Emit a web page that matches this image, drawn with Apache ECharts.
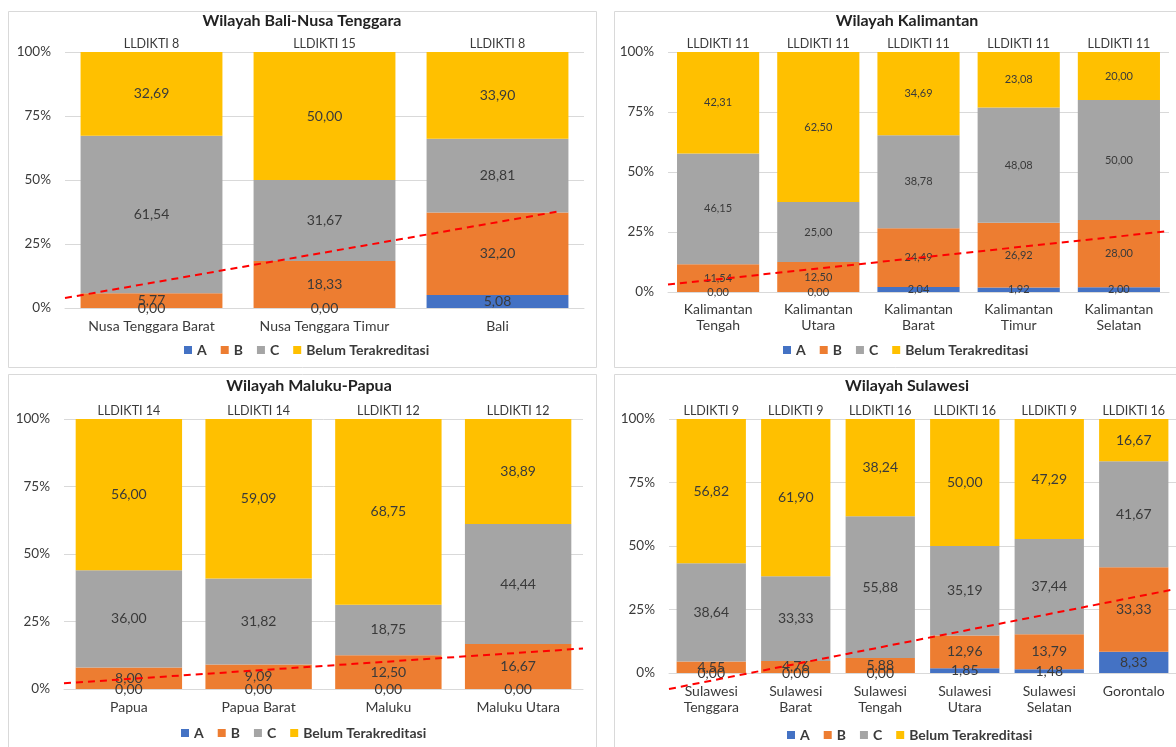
<!DOCTYPE html>
<html>
<head>
<meta charset="utf-8">
<script src="https://cdn.jsdelivr.net/npm/echarts@6/dist/echarts.min.js"></script>
<style>
  html, body { margin: 0; padding: 0; background: #fff; overflow: hidden; }
  #chart { width: 1176px; height: 747px; }
</style>
</head>
<body>
<div id="chart"></div>
<script>
// Wilayah Bali-Nusa Tenggara
const baliCategories = ['Nusa Tenggara Barat', 'Nusa Tenggara Timur', 'Bali'];
const baliLldikti = ['LLDIKTI 8', 'LLDIKTI 15', 'LLDIKTI 8'];
const baliA = [0.00, 0.00, 5.08];
const baliB = [5.77, 18.33, 32.20];
const baliC = [61.54, 31.67, 28.81];
const baliBelum = [32.69, 50.00, 33.90];
const baliTrend = [[0, 3.9], [2.86, 37.8]];

// Wilayah Kalimantan
const kalCategories = ['Kalimantan\nTengah', 'Kalimantan\nUtara', 'Kalimantan\nBarat', 'Kalimantan\nTimur', 'Kalimantan\nSelatan'];
const kalLldikti = ['LLDIKTI 11', 'LLDIKTI 11', 'LLDIKTI 11', 'LLDIKTI 11', 'LLDIKTI 11'];
const kalA = [0.00, 0.00, 2.04, 1.92, 2.00];
const kalB = [11.54, 12.50, 24.49, 26.92, 28.00];
const kalC = [46.15, 25.00, 38.78, 48.08, 50.00];
const kalBelum = [42.31, 62.50, 34.69, 23.08, 20.00];
const kalTrend = [[0, 3.1], [5, 25.4]];

// Wilayah Maluku-Papua
const mpCategories = ['Papua', 'Papua Barat', 'Maluku', 'Maluku Utara'];
const mpLldikti = ['LLDIKTI 14', 'LLDIKTI 14', 'LLDIKTI 12', 'LLDIKTI 12'];
const mpA = [0.00, 0.00, 0.00, 0.00];
const mpB = [8.00, 9.09, 12.50, 16.67];
const mpC = [36.00, 31.82, 18.75, 44.44];
const mpBelum = [56.00, 59.09, 68.75, 38.89];
const mpTrend = [[0, 2.1], [4, 15.0]];

// Wilayah Sulawesi
const sulCategories = ['Sulawesi\nTenggara', 'Sulawesi\nBarat', 'Sulawesi\nTengah', 'Sulawesi\nUtara', 'Sulawesi\nSelatan', 'Gorontalo'];
const sulLldikti = ['LLDIKTI 9', 'LLDIKTI 9', 'LLDIKTI 16', 'LLDIKTI 16', 'LLDIKTI 9', 'LLDIKTI 16'];
const sulA = [0.00, 0.00, 0.00, 1.85, 1.48, 8.33];
const sulB = [4.55, 4.76, 5.88, 12.96, 13.79, 33.33];
const sulC = [38.64, 33.33, 55.88, 35.19, 37.44, 41.67];
const sulBelum = [56.82, 61.90, 38.24, 50.00, 47.29, 16.67];
const sulTrend = [[0, -6.3], [5.94, 32.7]];

const seriesNames = ['A', 'B', 'C', 'Belum Terakreditasi'];
const seriesColors = ['#4472C4', '#ED7D31', '#A5A5A5', '#FFC000'];

const FONT = 'Lato, "Open Sans", sans-serif';
const TEXT = '#3a3a3a';

// layout of each panel (pixels)
const panels = [
  {
    title: 'Wilayah Bali-Nusa Tenggara', categories: baliCategories, lldikti: baliLldikti,
    values: [baliA, baliB, baliC, baliBelum], trend: baliTrend,
    box: [8.5, 11.5, 588, 356], grid: { left: 65, top: 52, width: 519, height: 256 },
    titleX: 302, titleY: 13, legendX: 184, legendY: 343, labelSize: 14, xMargin: 10
  },
  {
    title: 'Wilayah Kalimantan', categories: kalCategories, lldikti: kalLldikti,
    values: [kalA, kalB, kalC, kalBelum], trend: kalTrend,
    box: [614.5, 11.5, 600, 356], grid: { left: 668, top: 52, width: 501, height: 240 },
    titleX: 907, titleY: 13, legendX: 783, legendY: 343, labelSize: 11, xMargin: 9
  },
  {
    title: 'Wilayah Maluku-Papua', categories: mpCategories, lldikti: mpLldikti,
    values: [mpA, mpB, mpC, mpBelum], trend: mpTrend,
    box: [8.5, 374.5, 588, 400], grid: { left: 64, top: 419, width: 519, height: 270 },
    titleX: 309, titleY: 378, legendX: 181, legendY: 726, labelSize: 14, xMargin: 10
  },
  {
    title: 'Wilayah Sulawesi', categories: sulCategories, lldikti: sulLldikti,
    values: [sulA, sulB, sulC, sulBelum], trend: sulTrend,
    box: [614.5, 374.5, 600, 400], grid: { left: 669, top: 419, width: 510, height: 254 },
    titleX: 907, titleY: 378, legendX: 787, legendY: 728, labelSize: 14, xMargin: 10
  }
];

function fmt(v) {
  return v.toFixed(2).replace('.', ',');
}

const option = {
  animation: false,
  backgroundColor: '#fff',
  textStyle: { fontFamily: FONT },
  title: [],
  legend: [],
  grid: [],
  xAxis: [],
  yAxis: [],
  series: [],
  graphic: []
};

panels.forEach((p, i) => {
  const n = p.categories.length;
  option.graphic.push({
    type: 'rect', silent: true, z: -1,
    shape: { x: p.box[0], y: p.box[1], width: p.box[2], height: p.box[3] },
    style: { fill: 'none', stroke: '#d9d9d9', lineWidth: 1 }
  });
  option.title.push({
    text: p.title, left: p.titleX, top: p.titleY, textAlign: 'center', padding: 0,
    textStyle: { fontFamily: FONT, fontSize: 16, fontWeight: 'bold', color: '#222' }
  });
  option.legend.push({
    data: seriesNames, left: p.legendX, top: p.legendY, padding: 0,
    icon: 'rect', itemWidth: 8, itemHeight: 8, itemGap: 14,
    textStyle: { fontFamily: FONT, fontSize: 14, fontWeight: 'bold', color: TEXT }
  });
  option.grid.push(Object.assign({ containLabel: false }, p.grid));

  // bottom: region names
  option.xAxis.push({
    type: 'category', gridIndex: i, data: p.categories, position: 'bottom',
    axisLine: { lineStyle: { color: '#d9d9d9' } },
    axisTick: { show: false },
    axisLabel: { color: TEXT, fontSize: 14, margin: p.xMargin, lineHeight: 16, interval: 0, fontFamily: FONT }
  });
  // top: LLDIKTI labels
  option.xAxis.push({
    type: 'category', gridIndex: i, data: p.lldikti, position: 'top',
    axisLine: { show: false }, axisTick: { show: false },
    axisLabel: { color: TEXT, fontSize: 12.5, margin: 2, interval: 0, fontFamily: FONT }
  });
  // hidden numeric axis for the trend line
  option.xAxis.push({ type: 'value', gridIndex: i, min: 0, max: n, show: false });

  option.yAxis.push({
    type: 'value', gridIndex: i, min: 0, max: 100, interval: 25,
    axisLine: { show: false }, axisTick: { show: false },
    splitLine: { lineStyle: { color: '#d9d9d9' } },
    axisLabel: { formatter: '{value}%', color: TEXT, fontSize: 13.5, margin: 14, fontFamily: FONT }
  });

  seriesNames.forEach((name, k) => {
    option.series.push({
      name, type: 'bar', stack: 'p' + i,
      xAxisIndex: 3 * i, yAxisIndex: i,
      data: p.values[k], barCategoryGap: '18%',
      itemStyle: { color: seriesColors[k] },
      label: {
        show: true, position: 'inside', color: TEXT, fontSize: p.labelSize, fontFamily: FONT,
        formatter: d => fmt(d.value)
      }
    });
  });

  option.series.push({
    name: 'trend', type: 'line', xAxisIndex: 3 * i + 2, yAxisIndex: i,
    data: p.trend, symbol: 'none', clip: false, silent: true, z: 5,
    lineStyle: { color: '#FF0000', width: 2, type: [7, 5] }
  });
});

const myChart = echarts.init(document.getElementById('chart'));
myChart.setOption(option);
</script>
</body>
</html>
